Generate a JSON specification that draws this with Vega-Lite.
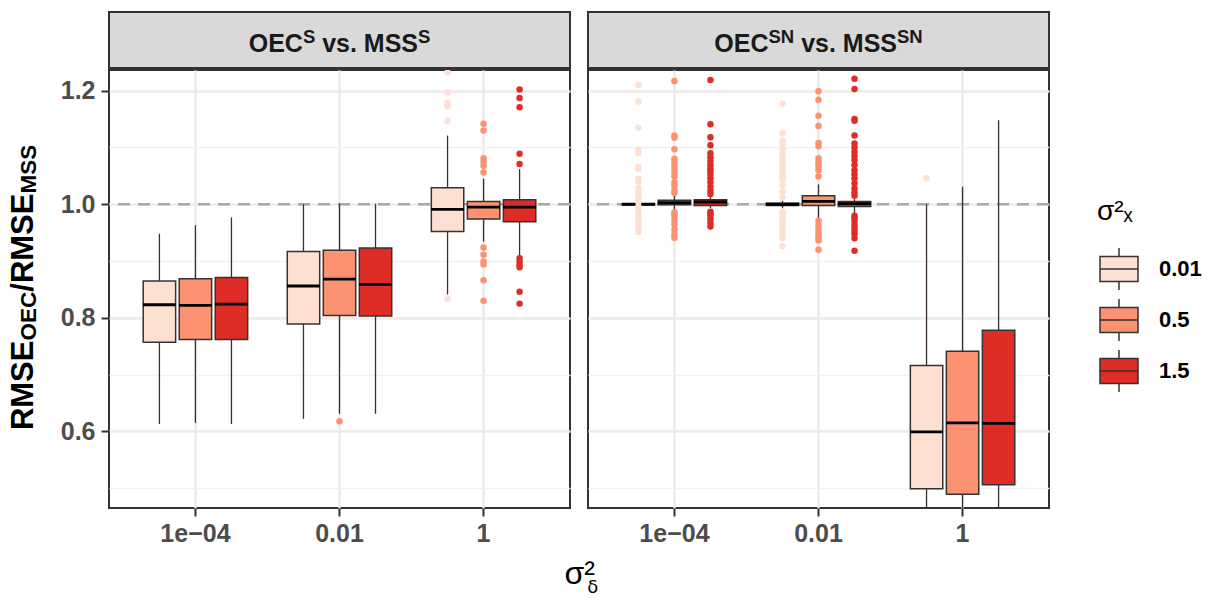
{
  "$schema": "https://vega.github.io/schema/vega-lite/v6.json",
  "background": "white",
  "padding": {"left": 0, "top": 11, "right": 0, "bottom": 0},
  "config": {
    "font": "Liberation Sans, Arial, DejaVu Sans, sans-serif",
    "view": {"stroke": null}
  },
  "datasets": {
    "boxes": [
      {"panel": "S", "delta": "1e-04", "sx": "0.01", "lower": 0.613, "q1": 0.757, "median": 0.823, "q3": 0.865, "upper": 0.948},
      {"panel": "S", "delta": "1e-04", "sx": "0.5", "lower": 0.615, "q1": 0.762, "median": 0.822, "q3": 0.869, "upper": 0.963},
      {"panel": "S", "delta": "1e-04", "sx": "1.5", "lower": 0.613, "q1": 0.762, "median": 0.824, "q3": 0.871, "upper": 0.977},
      {"panel": "S", "delta": "0.01", "sx": "0.01", "lower": 0.622, "q1": 0.789, "median": 0.856, "q3": 0.917, "upper": 1.0},
      {"panel": "S", "delta": "0.01", "sx": "0.5", "lower": 0.631, "q1": 0.804, "median": 0.868, "q3": 0.919, "upper": 1.001},
      {"panel": "S", "delta": "0.01", "sx": "1.5", "lower": 0.631, "q1": 0.803, "median": 0.859, "q3": 0.923, "upper": 1.001},
      {"panel": "S", "delta": "1", "sx": "0.01", "lower": 0.841, "q1": 0.952, "median": 0.991, "q3": 1.029, "upper": 1.121},
      {"panel": "S", "delta": "1", "sx": "0.5", "lower": 0.934, "q1": 0.974, "median": 0.995, "q3": 1.005, "upper": 1.045},
      {"panel": "S", "delta": "1", "sx": "1.5", "lower": 0.908, "q1": 0.969, "median": 0.995, "q3": 1.008, "upper": 1.062},
      {"panel": "SN", "delta": "1e-04", "sx": "0.01", "lower": 0.9985, "q1": 0.9993, "median": 1.0, "q3": 1.0007, "upper": 1.0015},
      {"panel": "SN", "delta": "1e-04", "sx": "0.5", "lower": 0.99, "q1": 0.999, "median": 1.003, "q3": 1.007, "upper": 1.017},
      {"panel": "SN", "delta": "1e-04", "sx": "1.5", "lower": 0.993, "q1": 0.998, "median": 1.004, "q3": 1.008, "upper": 1.014},
      {"panel": "SN", "delta": "0.01", "sx": "0.01", "lower": 0.993, "q1": 0.998, "median": 1.0, "q3": 1.002, "upper": 1.006},
      {"panel": "SN", "delta": "0.01", "sx": "0.5", "lower": 0.975, "q1": 0.998, "median": 1.005, "q3": 1.015, "upper": 1.035},
      {"panel": "SN", "delta": "0.01", "sx": "1.5", "lower": 0.984, "q1": 0.996, "median": 1.001, "q3": 1.005, "upper": 1.009},
      {"panel": "SN", "delta": "1", "sx": "0.01", "lower": 0.3, "q1": 0.499, "median": 0.599, "q3": 0.716, "upper": 1.0},
      {"panel": "SN", "delta": "1", "sx": "0.5", "lower": 0.3, "q1": 0.489, "median": 0.615, "q3": 0.741, "upper": 1.031},
      {"panel": "SN", "delta": "1", "sx": "1.5", "lower": 0.3, "q1": 0.506, "median": 0.614, "q3": 0.778, "upper": 1.148}
    ],
    "outliers": [
      {"panel": "S", "delta": "0.01", "sx": "0.5", "value": 0.618},
      {"panel": "S", "delta": "1", "sx": "0.01", "value": 1.232},
      {"panel": "S", "delta": "1", "sx": "0.01", "value": 1.197},
      {"panel": "S", "delta": "1", "sx": "0.01", "value": 1.178},
      {"panel": "S", "delta": "1", "sx": "0.01", "value": 1.173},
      {"panel": "S", "delta": "1", "sx": "0.01", "value": 1.147},
      {"panel": "S", "delta": "1", "sx": "0.01", "value": 0.833},
      {"panel": "S", "delta": "1", "sx": "0.5", "value": 1.142},
      {"panel": "S", "delta": "1", "sx": "0.5", "value": 1.13},
      {"panel": "S", "delta": "1", "sx": "0.5", "value": 1.081},
      {"panel": "S", "delta": "1", "sx": "0.5", "value": 1.075},
      {"panel": "S", "delta": "1", "sx": "0.5", "value": 1.068},
      {"panel": "S", "delta": "1", "sx": "0.5", "value": 1.056},
      {"panel": "S", "delta": "1", "sx": "0.5", "value": 0.924},
      {"panel": "S", "delta": "1", "sx": "0.5", "value": 0.911},
      {"panel": "S", "delta": "1", "sx": "0.5", "value": 0.899},
      {"panel": "S", "delta": "1", "sx": "0.5", "value": 0.894},
      {"panel": "S", "delta": "1", "sx": "0.5", "value": 0.866},
      {"panel": "S", "delta": "1", "sx": "0.5", "value": 0.83},
      {"panel": "S", "delta": "1", "sx": "1.5", "value": 1.202},
      {"panel": "S", "delta": "1", "sx": "1.5", "value": 1.187},
      {"panel": "S", "delta": "1", "sx": "1.5", "value": 1.171},
      {"panel": "S", "delta": "1", "sx": "1.5", "value": 1.089},
      {"panel": "S", "delta": "1", "sx": "1.5", "value": 1.071},
      {"panel": "S", "delta": "1", "sx": "1.5", "value": 0.905},
      {"panel": "S", "delta": "1", "sx": "1.5", "value": 0.899},
      {"panel": "S", "delta": "1", "sx": "1.5", "value": 0.893},
      {"panel": "S", "delta": "1", "sx": "1.5", "value": 0.889},
      {"panel": "S", "delta": "1", "sx": "1.5", "value": 0.846},
      {"panel": "S", "delta": "1", "sx": "1.5", "value": 0.825},
      {"panel": "SN", "delta": "1e-04", "sx": "0.01", "value": 1.21},
      {"panel": "SN", "delta": "1e-04", "sx": "0.01", "value": 1.181},
      {"panel": "SN", "delta": "1e-04", "sx": "0.01", "value": 1.135},
      {"panel": "SN", "delta": "1e-04", "sx": "0.01", "value": 1.096},
      {"panel": "SN", "delta": "1e-04", "sx": "0.01", "value": 1.09},
      {"panel": "SN", "delta": "1e-04", "sx": "0.01", "value": 1.066},
      {"panel": "SN", "delta": "1e-04", "sx": "0.01", "value": 1.062},
      {"panel": "SN", "delta": "1e-04", "sx": "0.01", "value": 1.045},
      {"panel": "SN", "delta": "1e-04", "sx": "0.01", "value": 1.04},
      {"panel": "SN", "delta": "1e-04", "sx": "0.01", "value": 1.029},
      {"panel": "SN", "delta": "1e-04", "sx": "0.01", "value": 1.021},
      {"panel": "SN", "delta": "1e-04", "sx": "0.01", "value": 1.014},
      {"panel": "SN", "delta": "1e-04", "sx": "0.01", "value": 1.008},
      {"panel": "SN", "delta": "1e-04", "sx": "0.01", "value": 1.004},
      {"panel": "SN", "delta": "1e-04", "sx": "0.01", "value": 0.996},
      {"panel": "SN", "delta": "1e-04", "sx": "0.01", "value": 0.993},
      {"panel": "SN", "delta": "1e-04", "sx": "0.01", "value": 0.986},
      {"panel": "SN", "delta": "1e-04", "sx": "0.01", "value": 0.978},
      {"panel": "SN", "delta": "1e-04", "sx": "0.01", "value": 0.97},
      {"panel": "SN", "delta": "1e-04", "sx": "0.01", "value": 0.965},
      {"panel": "SN", "delta": "1e-04", "sx": "0.01", "value": 0.96},
      {"panel": "SN", "delta": "1e-04", "sx": "0.01", "value": 0.951},
      {"panel": "SN", "delta": "1e-04", "sx": "0.5", "value": 1.217},
      {"panel": "SN", "delta": "1e-04", "sx": "0.5", "value": 1.121},
      {"panel": "SN", "delta": "1e-04", "sx": "0.5", "value": 1.117},
      {"panel": "SN", "delta": "1e-04", "sx": "0.5", "value": 1.097},
      {"panel": "SN", "delta": "1e-04", "sx": "0.5", "value": 1.08},
      {"panel": "SN", "delta": "1e-04", "sx": "0.5", "value": 1.075},
      {"panel": "SN", "delta": "1e-04", "sx": "0.5", "value": 1.069},
      {"panel": "SN", "delta": "1e-04", "sx": "0.5", "value": 1.062},
      {"panel": "SN", "delta": "1e-04", "sx": "0.5", "value": 1.055},
      {"panel": "SN", "delta": "1e-04", "sx": "0.5", "value": 1.049},
      {"panel": "SN", "delta": "1e-04", "sx": "0.5", "value": 1.039},
      {"panel": "SN", "delta": "1e-04", "sx": "0.5", "value": 1.033},
      {"panel": "SN", "delta": "1e-04", "sx": "0.5", "value": 1.025},
      {"panel": "SN", "delta": "1e-04", "sx": "0.5", "value": 1.02},
      {"panel": "SN", "delta": "1e-04", "sx": "0.5", "value": 0.986},
      {"panel": "SN", "delta": "1e-04", "sx": "0.5", "value": 0.982},
      {"panel": "SN", "delta": "1e-04", "sx": "0.5", "value": 0.978},
      {"panel": "SN", "delta": "1e-04", "sx": "0.5", "value": 0.971},
      {"panel": "SN", "delta": "1e-04", "sx": "0.5", "value": 0.964},
      {"panel": "SN", "delta": "1e-04", "sx": "0.5", "value": 0.955},
      {"panel": "SN", "delta": "1e-04", "sx": "0.5", "value": 0.947},
      {"panel": "SN", "delta": "1e-04", "sx": "0.5", "value": 0.941},
      {"panel": "SN", "delta": "1e-04", "sx": "1.5", "value": 1.219},
      {"panel": "SN", "delta": "1e-04", "sx": "1.5", "value": 1.141},
      {"panel": "SN", "delta": "1e-04", "sx": "1.5", "value": 1.118},
      {"panel": "SN", "delta": "1e-04", "sx": "1.5", "value": 1.104},
      {"panel": "SN", "delta": "1e-04", "sx": "1.5", "value": 1.09},
      {"panel": "SN", "delta": "1e-04", "sx": "1.5", "value": 1.083},
      {"panel": "SN", "delta": "1e-04", "sx": "1.5", "value": 1.076},
      {"panel": "SN", "delta": "1e-04", "sx": "1.5", "value": 1.069},
      {"panel": "SN", "delta": "1e-04", "sx": "1.5", "value": 1.063},
      {"panel": "SN", "delta": "1e-04", "sx": "1.5", "value": 1.058},
      {"panel": "SN", "delta": "1e-04", "sx": "1.5", "value": 1.053},
      {"panel": "SN", "delta": "1e-04", "sx": "1.5", "value": 1.046},
      {"panel": "SN", "delta": "1e-04", "sx": "1.5", "value": 1.039},
      {"panel": "SN", "delta": "1e-04", "sx": "1.5", "value": 1.031},
      {"panel": "SN", "delta": "1e-04", "sx": "1.5", "value": 1.024},
      {"panel": "SN", "delta": "1e-04", "sx": "1.5", "value": 1.018},
      {"panel": "SN", "delta": "1e-04", "sx": "1.5", "value": 0.987},
      {"panel": "SN", "delta": "1e-04", "sx": "1.5", "value": 0.984},
      {"panel": "SN", "delta": "1e-04", "sx": "1.5", "value": 0.98},
      {"panel": "SN", "delta": "1e-04", "sx": "1.5", "value": 0.974},
      {"panel": "SN", "delta": "1e-04", "sx": "1.5", "value": 0.967},
      {"panel": "SN", "delta": "1e-04", "sx": "1.5", "value": 0.961},
      {"panel": "SN", "delta": "0.01", "sx": "0.01", "value": 1.177},
      {"panel": "SN", "delta": "0.01", "sx": "0.01", "value": 1.125},
      {"panel": "SN", "delta": "0.01", "sx": "0.01", "value": 1.112},
      {"panel": "SN", "delta": "0.01", "sx": "0.01", "value": 1.106},
      {"panel": "SN", "delta": "0.01", "sx": "0.01", "value": 1.097},
      {"panel": "SN", "delta": "0.01", "sx": "0.01", "value": 1.09},
      {"panel": "SN", "delta": "0.01", "sx": "0.01", "value": 1.083},
      {"panel": "SN", "delta": "0.01", "sx": "0.01", "value": 1.075},
      {"panel": "SN", "delta": "0.01", "sx": "0.01", "value": 1.069},
      {"panel": "SN", "delta": "0.01", "sx": "0.01", "value": 1.062},
      {"panel": "SN", "delta": "0.01", "sx": "0.01", "value": 1.055},
      {"panel": "SN", "delta": "0.01", "sx": "0.01", "value": 1.049},
      {"panel": "SN", "delta": "0.01", "sx": "0.01", "value": 1.043},
      {"panel": "SN", "delta": "0.01", "sx": "0.01", "value": 1.033},
      {"panel": "SN", "delta": "0.01", "sx": "0.01", "value": 1.022},
      {"panel": "SN", "delta": "0.01", "sx": "0.01", "value": 1.012},
      {"panel": "SN", "delta": "0.01", "sx": "0.01", "value": 0.987},
      {"panel": "SN", "delta": "0.01", "sx": "0.01", "value": 0.981},
      {"panel": "SN", "delta": "0.01", "sx": "0.01", "value": 0.975},
      {"panel": "SN", "delta": "0.01", "sx": "0.01", "value": 0.969},
      {"panel": "SN", "delta": "0.01", "sx": "0.01", "value": 0.964},
      {"panel": "SN", "delta": "0.01", "sx": "0.01", "value": 0.956},
      {"panel": "SN", "delta": "0.01", "sx": "0.01", "value": 0.949},
      {"panel": "SN", "delta": "0.01", "sx": "0.01", "value": 0.94},
      {"panel": "SN", "delta": "0.01", "sx": "0.01", "value": 0.926},
      {"panel": "SN", "delta": "0.01", "sx": "0.5", "value": 1.199},
      {"panel": "SN", "delta": "0.01", "sx": "0.5", "value": 1.184},
      {"panel": "SN", "delta": "0.01", "sx": "0.5", "value": 1.156},
      {"panel": "SN", "delta": "0.01", "sx": "0.5", "value": 1.138},
      {"panel": "SN", "delta": "0.01", "sx": "0.5", "value": 1.108},
      {"panel": "SN", "delta": "0.01", "sx": "0.5", "value": 1.102},
      {"panel": "SN", "delta": "0.01", "sx": "0.5", "value": 1.081},
      {"panel": "SN", "delta": "0.01", "sx": "0.5", "value": 1.075},
      {"panel": "SN", "delta": "0.01", "sx": "0.5", "value": 1.07},
      {"panel": "SN", "delta": "0.01", "sx": "0.5", "value": 1.066},
      {"panel": "SN", "delta": "0.01", "sx": "0.5", "value": 1.06},
      {"panel": "SN", "delta": "0.01", "sx": "0.5", "value": 1.049},
      {"panel": "SN", "delta": "0.01", "sx": "0.5", "value": 0.971},
      {"panel": "SN", "delta": "0.01", "sx": "0.5", "value": 0.964},
      {"panel": "SN", "delta": "0.01", "sx": "0.5", "value": 0.958},
      {"panel": "SN", "delta": "0.01", "sx": "0.5", "value": 0.951},
      {"panel": "SN", "delta": "0.01", "sx": "0.5", "value": 0.945},
      {"panel": "SN", "delta": "0.01", "sx": "0.5", "value": 0.94},
      {"panel": "SN", "delta": "0.01", "sx": "0.5", "value": 0.936},
      {"panel": "SN", "delta": "0.01", "sx": "0.5", "value": 0.92},
      {"panel": "SN", "delta": "0.01", "sx": "1.5", "value": 1.221},
      {"panel": "SN", "delta": "0.01", "sx": "1.5", "value": 1.203},
      {"panel": "SN", "delta": "0.01", "sx": "1.5", "value": 1.15},
      {"panel": "SN", "delta": "0.01", "sx": "1.5", "value": 1.147},
      {"panel": "SN", "delta": "0.01", "sx": "1.5", "value": 1.121},
      {"panel": "SN", "delta": "0.01", "sx": "1.5", "value": 1.107},
      {"panel": "SN", "delta": "0.01", "sx": "1.5", "value": 1.1},
      {"panel": "SN", "delta": "0.01", "sx": "1.5", "value": 1.092},
      {"panel": "SN", "delta": "0.01", "sx": "1.5", "value": 1.085},
      {"panel": "SN", "delta": "0.01", "sx": "1.5", "value": 1.078},
      {"panel": "SN", "delta": "0.01", "sx": "1.5", "value": 1.069},
      {"panel": "SN", "delta": "0.01", "sx": "1.5", "value": 1.06},
      {"panel": "SN", "delta": "0.01", "sx": "1.5", "value": 1.053},
      {"panel": "SN", "delta": "0.01", "sx": "1.5", "value": 1.046},
      {"panel": "SN", "delta": "0.01", "sx": "1.5", "value": 1.037},
      {"panel": "SN", "delta": "0.01", "sx": "1.5", "value": 1.028},
      {"panel": "SN", "delta": "0.01", "sx": "1.5", "value": 1.021},
      {"panel": "SN", "delta": "0.01", "sx": "1.5", "value": 1.015},
      {"panel": "SN", "delta": "0.01", "sx": "1.5", "value": 0.98},
      {"panel": "SN", "delta": "0.01", "sx": "1.5", "value": 0.976},
      {"panel": "SN", "delta": "0.01", "sx": "1.5", "value": 0.971},
      {"panel": "SN", "delta": "0.01", "sx": "1.5", "value": 0.964},
      {"panel": "SN", "delta": "0.01", "sx": "1.5", "value": 0.958},
      {"panel": "SN", "delta": "0.01", "sx": "1.5", "value": 0.952},
      {"panel": "SN", "delta": "0.01", "sx": "1.5", "value": 0.947},
      {"panel": "SN", "delta": "0.01", "sx": "1.5", "value": 0.94},
      {"panel": "SN", "delta": "0.01", "sx": "1.5", "value": 0.918},
      {"panel": "SN", "delta": "1", "sx": "0.01", "value": 1.046}
    ]
  },
  "spacing": 18,
  "hconcat": [
    {
      "width": 40,
      "height": 494,
      "data": {"values": [{}]},
      "encoding": {
        "x": {"datum": 0.5, "type": "quantitative", "scale": {"domain": [0, 1]}, "axis": null},
        "y": {"datum": 0.4423, "type": "quantitative", "scale": {"domain": [0, 1]}, "axis": null}
      },
      "layer": [
        {"mark": {"type": "text", "angle": 270, "align": "left", "baseline": "alphabetic", "fontSize": 31, "fontWeight": "bold", "color": "black", "dx": -142.6, "dy": 13}, "encoding": {"text": {"value": "RMSE"}}},
        {"mark": {"type": "text", "angle": 270, "align": "left", "baseline": "alphabetic", "fontSize": 22.5, "fontWeight": "bold", "color": "black", "dx": -53.0, "dy": 16}, "encoding": {"text": {"value": "OEC"}}},
        {"mark": {"type": "text", "angle": 270, "align": "left", "baseline": "alphabetic", "fontSize": 31, "fontWeight": "bold", "color": "black", "dx": -4.2, "dy": 13}, "encoding": {"text": {"value": "/RMSE"}}},
        {"mark": {"type": "text", "angle": 270, "align": "left", "baseline": "alphabetic", "fontSize": 22.5, "fontWeight": "bold", "color": "black", "dx": 94.0, "dy": 16}, "encoding": {"text": {"value": "MSS"}}}
      ]
    },
    {
      "spacing": 16,
      "title": {
        "text": "σ²",
        "subtitle": "\u2800\u2800δ",
        "orient": "bottom",
        "anchor": "middle",
        "frame": "bounds",
        "dx": 25,
        "fontSize": 32,
        "fontWeight": "normal",
        "color": "black",
        "subtitleFont": "DejaVu Sans, Liberation Sans, sans-serif",
        "subtitleFontSize": 18,
        "subtitleColor": "black",
        "subtitlePadding": -12,
        "offset": 12
      },
      "hconcat": [
        {
          "spacing": 0,
          "vconcat": [
            {
              "width": 461,
              "height": 56,
              "view": {"fill": "#d9d9d9", "stroke": "#333333", "strokeWidth": 2},
              "data": {"values": [{}]},
              "encoding": {
                "x": {"datum": 0.5, "type": "quantitative", "scale": {"domain": [0, 1]}, "axis": null},
                "y": {"datum": 0.5, "type": "quantitative", "scale": {"domain": [0, 1]}, "axis": null}
              },
              "layer": [
                {"mark": {"type": "text", "align": "left", "baseline": "alphabetic", "fontSize": 25, "fontWeight": "bold", "color": "#1a1a1a", "dx": -90.8, "dy": 12.4}, "encoding": {"text": {"value": "OEC"}}},
                {"mark": {"type": "text", "align": "left", "baseline": "alphabetic", "fontSize": 18.5, "fontWeight": "bold", "color": "#1a1a1a", "dx": -36.6, "dy": 3}, "encoding": {"text": {"value": "S"}}},
                {"mark": {"type": "text", "align": "left", "baseline": "alphabetic", "fontSize": 25, "fontWeight": "bold", "color": "#1a1a1a", "dx": -17.35, "dy": 12.4}, "encoding": {"text": {"value": "vs. MSS"}}},
                {"mark": {"type": "text", "align": "left", "baseline": "alphabetic", "fontSize": 18.5, "fontWeight": "bold", "color": "#1a1a1a", "dx": 78.5, "dy": 3}, "encoding": {"text": {"value": "S"}}}
              ]
            },
            {
              "width": 461,
              "height": 438,
              "view": {"stroke": "#333333", "strokeWidth": 2},
              "resolve": {"axis": {"y": "independent"}},
              "layer": [
                {
                  "data": {"values": [{}]},
                  "mark": {"type": "rule", "strokeDash": [12, 8], "color": "#a9a9a9", "strokeWidth": 2.5, "clip": true},
                  "encoding": {
                    "y": {"datum": 1, "type": "quantitative", "scale": {"domain": [0.465, 1.2365], "nice": false, "zero": false},
                      "axis": {"orient": "right", "values": [0.5, 0.7, 0.9, 1.1], "labels": false, "ticks": false, "domain": false, "title": null, "grid": true, "gridColor": "#f2f2f2", "gridWidth": 1.4}}
                  }
                },
                {
                  "layer": [
                    {
                      "data": {"name": "boxes"},
                      "transform": [{"filter": "datum.panel == 'S'"}],
                      "mark": {"type": "rule", "color": "#3d2e2e", "strokeWidth": 1.3, "clip": true},
                      "encoding": {
                        "x": {"field": "delta", "type": "nominal", "sort": ["1e-04", "0.01", "1"], "scale": {"paddingInner": 0, "paddingOuter": 0.1},
                          "axis": {"title": null, "domain": false, "tickSize": 8, "tickWidth": 2, "tickColor": "#333333", "labelFontSize": 25, "labelFontWeight": "bold", "labelColor": "#4d4d4d", "labelPadding": 5, "labelAngle": 0, "grid": true, "gridColor": "#ebebeb", "gridWidth": 2.5, "bandPosition": 0.5, "labelExpr": "replace(datum.label, '-', '−')"}},
                        "xOffset": {"field": "sx", "type": "nominal", "sort": ["0.01", "0.5", "1.5"], "scale": {"paddingInner": 0.1, "paddingOuter": 0.55}},
                        "y": {"field": "lower", "type": "quantitative", "scale": {"domain": [0.465, 1.2365], "nice": false, "zero": false},
                          "axis": {"orient": "left", "title": null, "values": [0.6, 0.8, 1.0, 1.2], "format": ".1f", "domain": false, "tickSize": 8, "tickWidth": 2, "tickColor": "#333333", "labelFontSize": 25, "labelFontWeight": "bold", "labelColor": "#4d4d4d", "labelPadding": 6, "grid": true, "gridColor": "#ebebeb", "gridWidth": 2.5}},
                        "y2": {"field": "upper"}
                      }
                    },
                    {
                      "data": {"name": "boxes"},
                      "transform": [{"filter": "datum.panel == 'S'"}],
                      "mark": {"type": "bar", "stroke": "#333333", "strokeWidth": 1.5, "clip": true},
                      "encoding": {
                        "x": {"field": "delta", "type": "nominal", "sort": ["1e-04", "0.01", "1"]},
                        "xOffset": {"field": "sx", "type": "nominal", "sort": ["0.01", "0.5", "1.5"]},
                        "y": {"field": "q1", "type": "quantitative",
                          "axis": {"orient": "left", "title": null, "values": [0.6, 0.8, 1.0, 1.2], "format": ".1f", "domain": false, "tickSize": 8, "tickWidth": 2, "tickColor": "#333333", "labelFontSize": 25, "labelFontWeight": "bold", "labelColor": "#4d4d4d", "labelPadding": 6, "grid": true, "gridColor": "#ebebeb", "gridWidth": 2.5}},
                        "y2": {"field": "q3"},
                        "color": {"field": "sx", "type": "nominal", "scale": {"domain": ["0.01", "0.5", "1.5"], "range": ["#fee0d2", "#fc9272", "#de2d26"]},
                          "legend": {"title": "σ²ₓ", "orient": "none", "legendX": 1097, "legendY": 186, "padding": 0,
                            "titleFontSize": 28, "titleFontWeight": "normal", "titleColor": "black", "titlePadding": 21,
                            "labelFontSize": 22, "labelFontWeight": "bold", "labelColor": "black", "labelOffset": 18,
                            "symbolType": "M-0.905,-0.6H0.905V0.6H-0.905Z M-0.905,0H0.905 M0,-1V-0.6 M0,0.6V1",
                            "symbolSize": 1764, "symbolStrokeColor": "#333333", "symbolStrokeWidth": 1.5, "symbolOpacity": 1, "rowPadding": 3,
                            "encode": {"symbols": {"update": {"stroke": {"value": "#333333"}, "strokeWidth": {"value": 1.5}}}}}}
                      }
                    },
                    {
                      "data": {"name": "boxes"},
                      "transform": [{"filter": "datum.panel == 'S'"}],
                      "mark": {"type": "tick", "color": "black", "thickness": 2.8, "size": 33, "opacity": 1, "clip": true},
                      "encoding": {
                        "x": {"field": "delta", "type": "nominal", "sort": ["1e-04", "0.01", "1"]},
                        "xOffset": {"field": "sx", "type": "nominal", "sort": ["0.01", "0.5", "1.5"]},
                        "y": {"field": "median", "type": "quantitative",
                          "axis": {"orient": "left", "title": null, "values": [0.6, 0.8, 1.0, 1.2], "format": ".1f", "domain": false, "tickSize": 8, "tickWidth": 2, "tickColor": "#333333", "labelFontSize": 25, "labelFontWeight": "bold", "labelColor": "#4d4d4d", "labelPadding": 6, "grid": true, "gridColor": "#ebebeb", "gridWidth": 2.5}}
                      }
                    },
                    {
                      "data": {"name": "outliers"},
                      "transform": [{"filter": "datum.panel == 'S'"}],
                      "mark": {"type": "circle", "size": 42, "opacity": 1, "clip": true},
                      "encoding": {
                        "x": {"field": "delta", "type": "nominal", "sort": ["1e-04", "0.01", "1"]},
                        "xOffset": {"field": "sx", "type": "nominal", "sort": ["0.01", "0.5", "1.5"]},
                        "y": {"field": "value", "type": "quantitative",
                          "axis": {"orient": "left", "title": null, "values": [0.6, 0.8, 1.0, 1.2], "format": ".1f", "domain": false, "tickSize": 8, "tickWidth": 2, "tickColor": "#333333", "labelFontSize": 25, "labelFontWeight": "bold", "labelColor": "#4d4d4d", "labelPadding": 6, "grid": true, "gridColor": "#ebebeb", "gridWidth": 2.5}},
                        "color": {"field": "sx", "type": "nominal", "legend": null}
                      }
                    }
                  ]
                }
              ]
            }
          ]
        },
        {
          "spacing": 0,
          "vconcat": [
            {
              "width": 461,
              "height": 56,
              "view": {"fill": "#d9d9d9", "stroke": "#333333", "strokeWidth": 2},
              "data": {"values": [{}]},
              "encoding": {
                "x": {"datum": 0.5, "type": "quantitative", "scale": {"domain": [0, 1]}, "axis": null},
                "y": {"datum": 0.5, "type": "quantitative", "scale": {"domain": [0, 1]}, "axis": null}
              },
              "layer": [
                {"mark": {"type": "text", "align": "left", "baseline": "alphabetic", "fontSize": 25, "fontWeight": "bold", "color": "#1a1a1a", "dx": -104.2, "dy": 12.4}, "encoding": {"text": {"value": "OEC"}}},
                {"mark": {"type": "text", "align": "left", "baseline": "alphabetic", "fontSize": 18.5, "fontWeight": "bold", "color": "#1a1a1a", "dx": -50.0, "dy": 3}, "encoding": {"text": {"value": "SN"}}},
                {"mark": {"type": "text", "align": "left", "baseline": "alphabetic", "fontSize": 25, "fontWeight": "bold", "color": "#1a1a1a", "dx": -17.35, "dy": 12.4}, "encoding": {"text": {"value": "vs. MSS"}}},
                {"mark": {"type": "text", "align": "left", "baseline": "alphabetic", "fontSize": 18.5, "fontWeight": "bold", "color": "#1a1a1a", "dx": 78.5, "dy": 3}, "encoding": {"text": {"value": "SN"}}}
              ]
            },
            {
              "width": 461,
              "height": 438,
              "view": {"stroke": "#333333", "strokeWidth": 2},
              "resolve": {"axis": {"y": "independent"}},
              "layer": [
                {
                  "data": {"values": [{}]},
                  "mark": {"type": "rule", "strokeDash": [12, 8], "color": "#a9a9a9", "strokeWidth": 2.5, "clip": true},
                  "encoding": {
                    "y": {"datum": 1, "type": "quantitative", "scale": {"domain": [0.465, 1.2365], "nice": false, "zero": false},
                      "axis": {"orient": "right", "values": [0.5, 0.7, 0.9, 1.1], "labels": false, "ticks": false, "domain": false, "title": null, "grid": true, "gridColor": "#f2f2f2", "gridWidth": 1.4}}
                  }
                },
                {
                  "layer": [
                    {
                      "data": {"name": "boxes"},
                      "transform": [{"filter": "datum.panel == 'SN'"}],
                      "mark": {"type": "rule", "color": "#3d2e2e", "strokeWidth": 1.3, "clip": true},
                      "encoding": {
                        "x": {"field": "delta", "type": "nominal", "sort": ["1e-04", "0.01", "1"], "scale": {"paddingInner": 0, "paddingOuter": 0.1},
                          "axis": {"title": null, "domain": false, "tickSize": 8, "tickWidth": 2, "tickColor": "#333333", "labelFontSize": 25, "labelFontWeight": "bold", "labelColor": "#4d4d4d", "labelPadding": 5, "labelAngle": 0, "grid": true, "gridColor": "#ebebeb", "gridWidth": 2.5, "bandPosition": 0.5, "labelExpr": "replace(datum.label, '-', '−')"}},
                        "xOffset": {"field": "sx", "type": "nominal", "sort": ["0.01", "0.5", "1.5"], "scale": {"paddingInner": 0.1, "paddingOuter": 0.55}},
                        "y": {"field": "lower", "type": "quantitative", "scale": {"domain": [0.465, 1.2365], "nice": false, "zero": false},
                          "axis": {"orient": "left", "title": null, "values": [0.6, 0.8, 1.0, 1.2], "labels": false, "ticks": false, "domain": false, "grid": true, "gridColor": "#ebebeb", "gridWidth": 2.5}},
                        "y2": {"field": "upper"}
                      }
                    },
                    {
                      "data": {"name": "boxes"},
                      "transform": [{"filter": "datum.panel == 'SN'"}],
                      "mark": {"type": "bar", "stroke": "#333333", "strokeWidth": 1.5, "clip": true},
                      "encoding": {
                        "x": {"field": "delta", "type": "nominal", "sort": ["1e-04", "0.01", "1"]},
                        "xOffset": {"field": "sx", "type": "nominal", "sort": ["0.01", "0.5", "1.5"]},
                        "y": {"field": "q1", "type": "quantitative",
                          "axis": {"orient": "left", "title": null, "values": [0.6, 0.8, 1.0, 1.2], "labels": false, "ticks": false, "domain": false, "grid": true, "gridColor": "#ebebeb", "gridWidth": 2.5}},
                        "y2": {"field": "q3"},
                        "color": {"field": "sx", "type": "nominal", "legend": null}
                      }
                    },
                    {
                      "data": {"name": "boxes"},
                      "transform": [{"filter": "datum.panel == 'SN'"}],
                      "mark": {"type": "tick", "color": "black", "thickness": 2.8, "size": 33, "opacity": 1, "clip": true},
                      "encoding": {
                        "x": {"field": "delta", "type": "nominal", "sort": ["1e-04", "0.01", "1"]},
                        "xOffset": {"field": "sx", "type": "nominal", "sort": ["0.01", "0.5", "1.5"]},
                        "y": {"field": "median", "type": "quantitative",
                          "axis": {"orient": "left", "title": null, "values": [0.6, 0.8, 1.0, 1.2], "labels": false, "ticks": false, "domain": false, "grid": true, "gridColor": "#ebebeb", "gridWidth": 2.5}}
                      }
                    },
                    {
                      "data": {"name": "outliers"},
                      "transform": [{"filter": "datum.panel == 'SN'"}],
                      "mark": {"type": "circle", "size": 42, "opacity": 1, "clip": true},
                      "encoding": {
                        "x": {"field": "delta", "type": "nominal", "sort": ["1e-04", "0.01", "1"]},
                        "xOffset": {"field": "sx", "type": "nominal", "sort": ["0.01", "0.5", "1.5"]},
                        "y": {"field": "value", "type": "quantitative",
                          "axis": {"orient": "left", "title": null, "values": [0.6, 0.8, 1.0, 1.2], "labels": false, "ticks": false, "domain": false, "grid": true, "gridColor": "#ebebeb", "gridWidth": 2.5}},
                        "color": {"field": "sx", "type": "nominal", "legend": null}
                      }
                    }
                  ]
                }
              ]
            }
          ]
        }
      ]
    }
  ]
}
